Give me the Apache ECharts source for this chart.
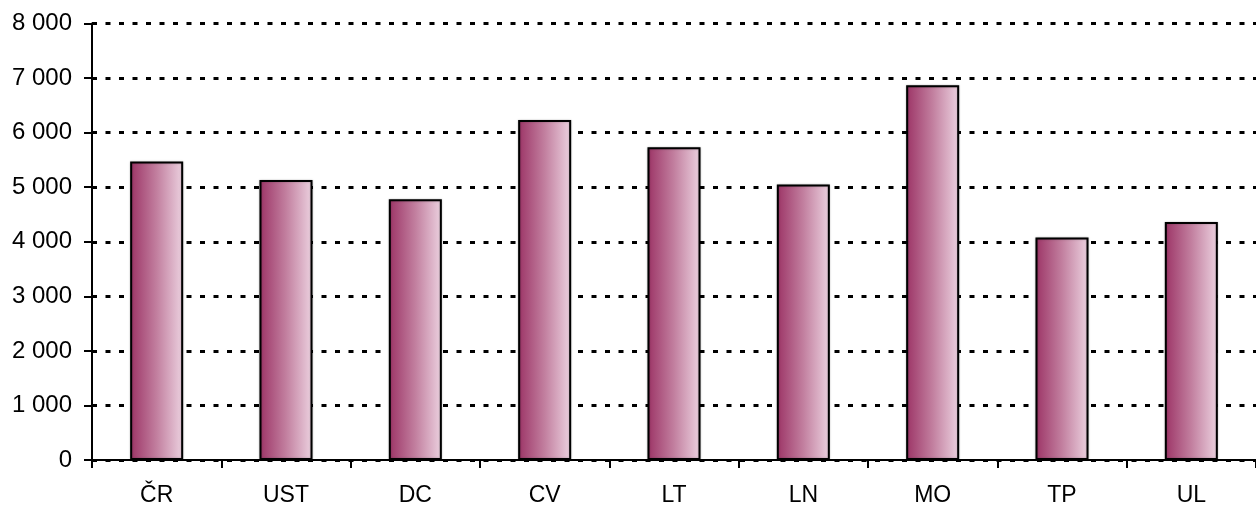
<!DOCTYPE html>
<html><head><meta charset="utf-8">
<script src="https://cdn.jsdelivr.net/npm/echarts@6/dist/echarts.min.js"></script>
<style>html,body{margin:0;padding:0;background:#fff}#c{width:1256px;height:507px}</style>
</head><body><div id="c"></div>
<script>
const categories = ['ČR','UST','DC','CV','LT','LN','MO','TP','UL'];
const values = [5470, 5130, 4780, 6230, 5730, 5050, 6870, 4080, 4360];
const yTicks = [0,1000,2000,3000,4000,5000,6000,7000,8000];

const chart = echarts.init(document.getElementById('c'));
const fmt = v => v === 0 ? '0' : String(v).replace(/\B(?=(\d{3})+(?!\d))/g, ' ');
chart.setOption({
  animation: false,
  grid: {left: 92, top: 23.5, width: 1175, height: 436.5, containLabel: false},
  xAxis: {
    type: 'category', data: categories,
    axisLine: {lineStyle: {color: '#000', width: 2}},
    axisTick: {show: true, length: 8, lineStyle: {color: '#000', width: 2}},
    axisLabel: {color: '#000', fontFamily: 'Liberation Sans, Arial', fontSize: 23, margin: 24}
  },
  yAxis: {
    type: 'value', min: 0, max: 8000, interval: 1000,
    axisLine: {show: true, lineStyle: {color: '#000', width: 2}},
    axisTick: {show: true, length: 8, lineStyle: {color: '#000', width: 2}},
    axisLabel: {color: '#000', fontFamily: 'Liberation Sans, Arial', fontSize: 24, margin: 20, formatter: fmt},
    splitLine: {show: true, lineStyle: {color: '#000', width: 3, type: [5, 8.5]}}
  },
  series: [{
    type: 'bar', data: values, barWidth: '41%',
    itemStyle: {
      borderColor: '#000', borderWidth: 2,
      shadowColor: 'rgba(0,0,0,0.25)', shadowBlur: 2,
      color: new echarts.graphic.LinearGradient(0, 0, 1, 0, [
        {offset: 0, color: '#9c3466'},
        {offset: 0.5, color: '#c27f9f'},
        {offset: 1, color: '#ecd2e0'}
      ])
    }
  }]
});
</script></body></html>
